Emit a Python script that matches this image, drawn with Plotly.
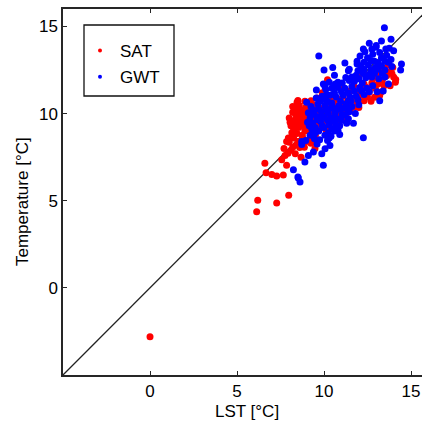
import plotly.graph_objects as go

# ---- data ----
sat_x = [0.0, 6.13, 6.19, 7.28, 7.97, 6.6, 6.67, 7.0, 7.28, 7.66, 7.57, 7.85, 7.76, 7.93, 8.2, 8.5, 8.68, 8.87, 9.25, 9.48,
         8.1, 8.35, 8.0, 8.25, 8.6, 8.45, 8.75, 7.95,
         8.1, 8.3, 8.2, 8.5, 8.4, 8.58, 8.8, 8.7, 8.9, 9.0, 9.1, 9.25, 8.0, 8.25, 8.55, 8.9, 9.2, 9.4, 9.5, 9.6, 9.7, 9.8,
         8.45, 8.75, 9.05, 9.35, 9.55, 8.8, 9.2, 9.83, 10.1, 10.0, 10.3, 10.2, 10.5, 10.1, 9.9, 10.2, 8.65, 8.35, 9.15, 9.65, 8.95,
         10.8, 10.6, 11.0, 11.2, 11.4, 11.74, 11.6, 11.9, 12.3, 12.2, 11.9, 12.5, 12.6, 12.9, 13.2, 12.95, 13.1, 13.45, 13.3, 13.6,
         13.8, 14.1, 14.12, 12.7, 11.5, 11.1, 10.9, 10.45, 11.3, 10.7, 11.7, 12.3, 12.8, 13.2, 13.4, 12.5, 13.9, 13.95, 13.7,
         10.4, 10.0, 10.35, 11.0, 12.0,
         8.15, 8.05, 8.3, 8.6, 8.4, 8.65, 8.2, 8.5, 8.85, 9.1, 9.3, 9.45, 9.0, 8.95, 9.65, 9.9, 10.15, 10.55, 10.95, 11.35,
         11.8, 12.1, 12.45, 12.75, 13.05, 13.35, 13.7, 14.0, 11.5, 12.0, 10.6, 9.5, 9.0, 8.4, 7.7, 7.85]
sat_y = [-2.8, 4.36, 5.03, 4.87, 5.31, 7.15, 6.6, 6.5, 6.42, 6.48, 7.35, 7.03, 7.6, 7.73, 8.07, 8.4, 7.5, 8.07, 8.3, 8.0,
         7.9, 7.7, 8.35, 8.6, 8.05, 8.85, 8.75, 8.6,
         9.3, 9.6, 10.07, 9.9, 10.3, 10.46, 10.2, 9.5, 9.0, 9.8, 10.5, 10.74, 9.75, 9.05, 9.2, 10.7, 9.3, 9.6, 10.2, 10.9, 9.4, 10.0,
         10.65, 9.95, 9.05, 8.85, 9.1, 8.55, 8.6, 9.2, 9.1, 9.6, 9.4, 10.4, 10.7, 11.0, 11.2, 11.94, 9.7, 10.0, 9.6, 9.75, 10.35,
         9.8, 10.2, 10.5, 10.07, 10.4, 10.36, 10.8, 10.6, 10.74, 11.05, 11.2, 10.95, 11.25, 10.93, 11.03, 11.45, 11.7, 11.6, 11.25, 12.17,
         11.6, 11.8, 11.95, 10.7, 11.3, 11.0, 10.8, 10.3, 9.75, 9.45, 11.6, 11.7, 12.0, 12.35, 12.6, 12.2, 12.3, 12.65, 12.8,
         9.9, 10.35, 10.95, 11.5, 12.1,
         8.9, 9.5, 9.35, 9.45, 9.75, 10.1, 10.4, 10.75, 9.3, 9.15, 10.1, 10.5, 10.2, 9.55, 10.35, 9.4, 9.75, 9.85, 10.1, 10.7,
         10.9, 11.35, 11.5, 11.75, 12.1, 11.9, 12.4, 12.1, 10.15, 10.35, 10.5, 8.75, 8.4, 8.2, 8.0, 8.4]

gwt_x = [8.24, 8.5, 8.62, 8.52, 8.9, 9.1, 8.72, 9.39, 9.87, 9.96, 10.06, 10.2, 10.34, 10.6, 10.9, 11.3, 11.69, 12.26, 9.6, 9.2,
         8.95, 8.72, 10.4, 10.25, 9.75, 9.45,
         9.0, 9.56, 9.96, 10.15, 10.1, 9.3, 9.7, 10.0, 10.45, 10.8, 9.05, 9.35, 9.8, 10.2, 10.55, 11.0, 11.4, 9.1, 9.45, 9.85,
         10.25, 10.65, 11.05, 11.45, 11.8, 9.25, 9.65, 10.05, 10.45, 10.85, 11.25, 11.6, 12.0, 9.55, 9.9, 10.35, 10.7, 11.1, 11.5,
         11.85, 12.3, 10.05, 10.45, 10.8, 11.2, 11.6, 12.05, 12.45, 12.8, 9.4, 9.7, 10.4, 10.9, 11.35, 10.6, 10.1, 10.95, 11.4,
         9.2, 13.2, 13.4,
         10.0, 10.5, 10.8, 11.4, 11.25, 11.9, 11.6, 12.0, 12.4, 12.75, 13.15, 13.5, 11.45, 11.95, 12.3, 12.7, 13.1, 13.5, 11.9,
         12.3, 12.7, 13.1, 13.5, 13.85, 12.07, 12.35, 12.8, 13.2, 13.6, 12.26, 12.6, 12.99, 13.3, 13.85, 13.47, 9.7, 14.45, 14.4,
         13.9, 14.0, 13.75, 12.55, 13.3, 11.2, 10.6, 13.7, 13.05, 12.2, 12.9, 11.75,
         9.15, 9.5, 9.9, 10.3, 10.7, 9.6, 10.0, 10.4, 10.8, 11.2, 9.3, 9.7, 10.1, 10.55, 11.15, 11.55, 11.95, 9.8, 10.25, 10.6,
         11.0, 11.4, 11.75, 12.15, 12.6, 10.3, 10.65, 11.05, 11.45, 11.85, 12.25, 12.6, 12.95, 13.35, 13.7, 12.1, 12.5, 12.9,
         13.3, 13.0, 13.55, 12.75, 10.3, 9.5, 10.05, 10.9]
gwt_y = [6.78, 6.36, 6.07, 6.3, 7.22, 7.6, 8.23, 7.79, 7.7, 7.03, 7.98, 8.46, 8.17, 9.0, 9.3, 9.45, 9.45, 8.61, 8.25, 8.75,
         8.45, 8.4, 8.7, 8.9, 8.5, 8.55,
         10.65, 11.35, 11.7, 11.1, 11.4, 9.1, 9.0, 9.2, 9.15, 9.05, 9.5, 9.45, 9.55, 9.6, 9.55, 9.6, 9.7, 10.05, 9.95, 10.1,
         10.0, 10.05, 9.95, 10.1, 10.0, 10.4, 10.55, 10.45, 10.6, 10.45, 10.55, 10.4, 10.5, 10.9, 11.0, 11.05, 10.95, 11.05, 10.95,
         11.0, 11.1, 11.55, 11.45, 11.5, 11.45, 11.55, 11.5, 11.45, 11.6, 10.2, 9.8, 10.3, 10.25, 10.25, 9.8, 10.8, 10.7, 10.75,
         9.75, 10.74, 11.3,
         12.5, 12.65, 11.8, 12.46, 12.07, 12.84, 12.1, 12.0, 12.05, 12.1, 12.0, 12.1, 12.55, 12.45, 12.55, 12.5, 12.55, 12.5, 13.0,
         12.95, 13.05, 12.9, 13.0, 13.1, 13.31, 13.55, 13.4, 13.5, 13.35, 13.7, 14.04, 13.8, 14.17, 14.27, 14.93, 13.3, 12.84, 12.5,
         12.7, 13.6, 13.75, 12.8, 12.75, 12.9, 12.2, 11.7, 11.25, 11.75, 12.3, 11.85,
         9.3, 9.2, 9.3, 9.35, 9.35, 9.65, 9.8, 9.75, 9.7, 9.9, 10.1, 10.25, 10.2, 10.3, 10.3, 10.7, 10.8, 10.7, 10.65, 11.2,
         11.25, 11.2, 11.3, 11.3, 11.25, 11.8, 11.7, 11.75, 11.9, 12.2, 12.3, 12.25, 12.65, 12.3, 12.95, 12.75, 13.2, 13.0,
         13.2, 13.9, 13.7, 13.7, 8.6, 8.9, 8.75, 8.8]

one_to_one = [-5, 16]
x_ticks = [0, 5, 10, 15]
y_ticks = [0, 5, 10, 15]

RED = "#ff0000"
BLUE = "#0000ff"
AX = "#262626"
FONT = "Liberation Sans, Arial, sans-serif"

fig = go.Figure()
fig.add_trace(go.Scatter(x=one_to_one, y=one_to_one, mode="lines",
                         line=dict(color="#222222", width=1.3), showlegend=False, hoverinfo="skip"))
fig.add_trace(go.Scatter(x=sat_x, y=sat_y, mode="markers", name="SAT",
                         marker=dict(color=RED, size=7, line=dict(width=0)), showlegend=False))
fig.add_trace(go.Scatter(x=gwt_x, y=gwt_y, mode="markers", name="GWT",
                         marker=dict(color=BLUE, size=7, line=dict(width=0)), showlegend=False))
# legend entries
fig.add_trace(go.Scatter(x=[None], y=[None], mode="markers", name="SAT", legendgroup="a",
                         marker=dict(color=RED, size=4)))
fig.add_trace(go.Scatter(x=[None], y=[None], mode="markers", name="GWT", legendgroup="b",
                         marker=dict(color=BLUE, size=4)))

L, R, T, B = 63, 0, 9, 51
W, H = 422, 426
pw, ph = W - L - R, H - T - B

def px2paperx(p):
    return (p - L) / pw

def py2papery(p):
    return (H - B - p) / ph

fig.update_layout(
    width=W, height=H,
    margin=dict(l=L, r=R, t=T, b=B, pad=0),
    paper_bgcolor="white", plot_bgcolor="white",
    font=dict(family=FONT, size=17, color="#000000"),
    showlegend=True,
    legend=dict(x=px2paperx(80), y=py2papery(33), xanchor="left", yanchor="top",
                bgcolor="rgba(0,0,0,0)", borderwidth=0, tracegroupgap=1,
                font=dict(size=17), itemwidth=30),
    xaxis=dict(range=[-5, 15.63], tickvals=x_ticks, ticks="inside", ticklen=4, tickwidth=1,
               tickcolor=AX, showline=True, linecolor=AX, linewidth=1.5, mirror="ticks",
               showgrid=False, zeroline=False, tickfont=dict(size=17, color="#000000")),
    yaxis=dict(range=[-5, 16], tickvals=y_ticks, ticks="inside", ticklen=4, tickwidth=1,
               tickcolor=AX, showline=True, linecolor=AX, linewidth=1.5,
               showgrid=False, zeroline=False, tickfont=dict(size=17, color="#000000")),
    shapes=[dict(type="rect", xref="paper", yref="paper",
                 x0=px2paperx(84), x1=px2paperx(174), y0=py2papery(96), y1=py2papery(25),
                 line=dict(color="#111111", width=1.3), fillcolor="rgba(0,0,0,0)")],
    annotations=[
        dict(text="LST [°C]", xref="paper", yref="paper", x=px2paperx(247), y=py2papery(411),
             xanchor="center", yanchor="middle", showarrow=False, font=dict(size=17)),
        dict(text="Temperature [°C]", xref="paper", yref="paper", x=px2paperx(22), y=py2papery(202),
             xanchor="center", yanchor="middle", textangle=-90, showarrow=False, font=dict(size=17)),
    ],
)

fig.write_html("out.html")
